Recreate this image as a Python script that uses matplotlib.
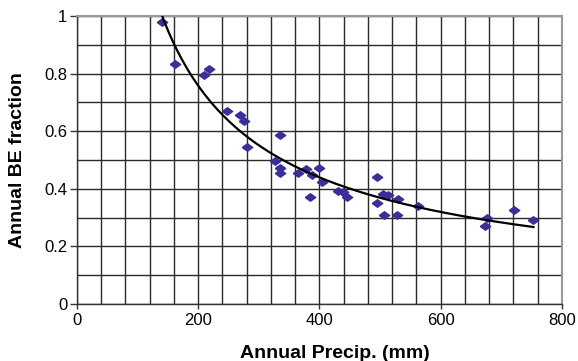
import numpy as np
import matplotlib
matplotlib.use("Agg")
import matplotlib.pyplot as plt
from matplotlib.ticker import MultipleLocator

plt.rcParams['font.family'] = ['Liberation Sans', 'DejaVu Sans']

precip = [140, 162, 210, 218, 248, 269, 276, 280, 327, 335, 335, 335, 365, 378,
          384, 388, 399, 404, 430, 438, 446, 495, 495, 504, 507, 513, 528, 530,
          563, 673, 677, 721, 753]
be_frac = [0.980, 0.833, 0.795, 0.816, 0.670, 0.656, 0.635, 0.545, 0.497, 0.587,
           0.472, 0.455, 0.455, 0.469, 0.370, 0.448, 0.472, 0.424, 0.392, 0.388,
           0.371, 0.441, 0.351, 0.382, 0.309, 0.378, 0.309, 0.365, 0.340, 0.271,
           0.299, 0.326, 0.292]

x_ticks = [0, 200, 400, 600, 800]
y_ticks = [0, 0.2, 0.4, 0.6, 0.8, 1.0]
y_tick_labels = ['0', '0.2', '0.4', '0.6', '0.8', '1']

x = np.array(precip, dtype=float)
y = np.array(be_frac, dtype=float)
b, loga = np.polyfit(np.log(x), np.log(y), 1)
xf = np.linspace(x.min(), x.max(), 200)
yf = np.exp(loga) * xf ** b

fig = plt.figure(figsize=(5.78, 3.61), dpi=100)
ax = fig.add_axes([0.1332, 0.158, 0.8391, 0.7977])

ax.set_xlim(0, 800)
ax.set_ylim(0, 1)
ax.xaxis.set_minor_locator(MultipleLocator(40))
ax.yaxis.set_minor_locator(MultipleLocator(0.1))
ax.set_xticks(x_ticks)
ax.set_yticks(y_ticks)
ax.set_yticklabels(y_tick_labels)
ax.grid(True, which='both', color='#2a2a2a', linewidth=1.0)
ax.set_axisbelow(True)
ax.tick_params(which='minor', length=0)
ax.tick_params(axis='x', which='major', length=3.5, width=1, color='#333333',
               labelsize=12, direction='out', pad=3)
ax.tick_params(axis='y', which='major', length=5, width=1, color='#333333',
               labelsize=12, direction='out', pad=2)

for side in ['top', 'right']:
    ax.spines[side].set_color('#999999')
    ax.spines[side].set_linewidth(1.5)
for side in ['left', 'bottom']:
    ax.spines[side].set_color('#333333')
    ax.spines[side].set_linewidth(1.0)

diamond = [(-1, 0), (0, 0.72), (1, 0), (0, -0.72), (-1, 0)]
ax.plot(x, y, linestyle='none', marker=diamond, markersize=7.5,
        color='#3a2e98', zorder=3)
ax.plot(xf, yf, color='black', linewidth=1.6, zorder=4)

ax.set_xlabel('Annual Precip. (mm)', fontsize=14, fontweight='bold')
ax.set_ylabel('Annual BE fraction', fontsize=14, fontweight='bold')
ax.xaxis.label.set_va('center')
ax.yaxis.label.set_va('center')
ax.xaxis.set_label_coords(0.532, -0.1736)
ax.yaxis.set_label_coords(-0.1227, 0.5)

fig.savefig('out.png', dpi=100)
